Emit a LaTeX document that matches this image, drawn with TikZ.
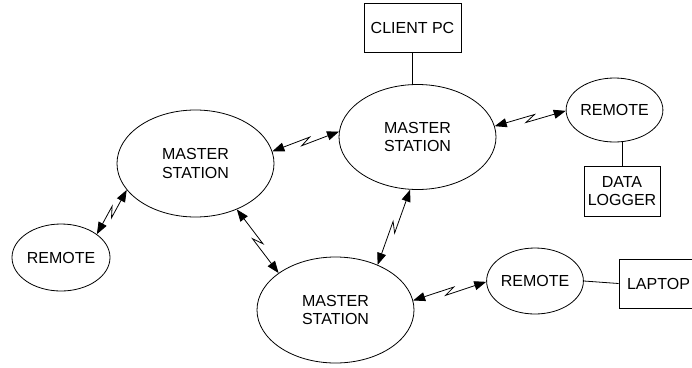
\documentclass[tikz,border=0pt]{standalone}
\usepackage{fontspec}
\setmainfont{Liberation Sans}
\usetikzlibrary{shapes.geometric,arrows.meta,calc}
\tikzset{
  lbl/.style={font=\fontsize{16}{18.4}\selectfont, align=center, inner sep=0pt, line width=0.8pt, draw},
  stn/.style={lbl, ellipse},
  boxn/.style={lbl, rectangle},
  wire/.style={line width=0.8pt},
  radio/.style={line width=0.8pt, {Triangle[length=12pt,width=9pt]}-{Triangle[length=12pt,width=9pt]}}
}
\newcommand{\zlink}[2]{%
  \coordinate (zzM) at ($(#1)!0.5!(#2)$);
  \coordinate (zzF) at ($(zzM)!5pt!(#2)$);
  \coordinate (zzB) at ($(zzM)!-5pt!(#2)$);
  \coordinate (zzP) at ($(zzF)!3pt!90:(#2)$);
  \coordinate (zzQ) at ($(zzB)!3pt!-90:(#2)$);
  \draw[radio] (#1) -- (zzP) -- (zzQ) -- (#2);
}
\begin{document}
\begin{tikzpicture}[x=1pt,y=-1pt]
\clip (0,0) rectangle (692,367);
\node[stn, minimum width=157pt, minimum height=107pt] (ml) at (195.5,163.5) {MASTER\\STATION};
\node[stn, minimum width=157pt, minimum height=105pt] (mt) at (417.5,137) {MASTER\\STATION};
\node[stn, minimum width=157pt, minimum height=106pt] (mb) at (335.5,310) {MASTER\\STATION};
\node[stn, minimum width=98pt, minimum height=67pt] (rl) at (61,257.5) {REMOTE};
\node[stn, minimum width=95pt, minimum height=64pt] (rt) at (614.5,110) {REMOTE};
\node[stn, minimum width=96pt, minimum height=66pt] (rb) at (535,281) {REMOTE};
\node[boxn, minimum width=97pt, minimum height=49pt] (client) at (412.5,27.5) {CLIENT PC};
\node[boxn, minimum width=76pt, minimum height=50pt] (logger) at (622,191) {DATA\\LOGGER};
\node[boxn, minimum width=79pt, minimum height=49pt] (laptop) at (658.5,283.5) {LAPTOP};

\draw[wire] (client.south) -- (client.south |- mt.north);
\draw[wire] (logger.north) -- (logger.north |- rt.south);
\draw[wire] (rb.east) -- (laptop.west);

\zlink{ml.9}{mt.176}
\zlink{mt.8.5}{rt.181}
\zlink{rl.33}{ml.201}
\zlink{ml.312.6}{mb.147}
\zlink{mt.262.4}{mb.47.3}
\zlink{mb.7}{rb.181}
\end{tikzpicture}
\end{document}
